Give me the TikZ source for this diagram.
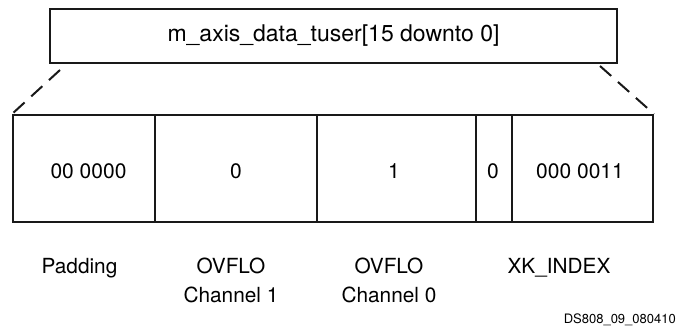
\documentclass[tikz,border=0pt]{standalone}
\usepackage{fontspec}
\setmainfont{TeX Gyre Heros}
\begin{document}
\begin{tikzpicture}[x=1pt,y=-1pt,
  boxline/.style={draw=black!90,line width=2pt},
  cell/.style={boxline,rectangle,inner sep=0pt,minimum height=107pt},
  val/.style={font=\fontsize{21}{25}\selectfont,inner sep=0pt,anchor=base},
  lbl/.style={font=\fontsize{20.8}{29}\selectfont,inner sep=0pt,anchor=base,align=center},
  dashline/.style={draw=black!90,line width=2pt,dash pattern=on 15pt off 9pt}]
\useasboundingbox (0,0) rectangle (677,326);
% top box
\node[boxline,rectangle,inner sep=0pt,minimum width=567pt,minimum height=54pt,
      font=\fontsize{23}{27}\selectfont] (top) at (333.5,36) {m\_axis\_data\_tuser[15 downto 0]};
% cells
\node[cell,minimum width=142pt] (c0) at (84,168.5) {};
\node[cell,minimum width=162pt] (c1) at (236,168.5) {};
\node[cell,minimum width=159pt] (c2) at (396.5,168.5) {};
\node[cell,minimum width=36pt] (c3) at (494,168.5) {};
\node[cell,minimum width=141pt] (c4) at (582.5,168.5) {};
% values
\node[val] (v0) at (88.5,178) {00 0000};
\node[val] (v1) at (236,178) {0};
\node[val] (v2) at (394,178) {1};
\node[val] (v3) at (493,178) {0};
\node[val] (v4) at (580,178) {000 0011};
% dashed connectors
\coordinate (dl) at (60,70);
\coordinate (dr) at (600,66);
\draw[dashline] (dl) -- (c0.north west);
\draw[dashline] (dr) -- (c4.north east);
% labels
\node[lbl] (l0) at (79.5,273) {Padding};
\node[lbl] (l1) at (231,302) {OVFLO\\Channel 1};
\node[lbl] (l2) at (389,302) {OVFLO\\Channel 0};
\node[lbl] (l3) at (559,273) {XK\_INDEX};
\node[font=\fontsize{13}{15}\selectfont,inner sep=0pt,anchor=base east] (ds) at (676,323) {DS808\_09\_080410};
\end{tikzpicture}
\end{document}
